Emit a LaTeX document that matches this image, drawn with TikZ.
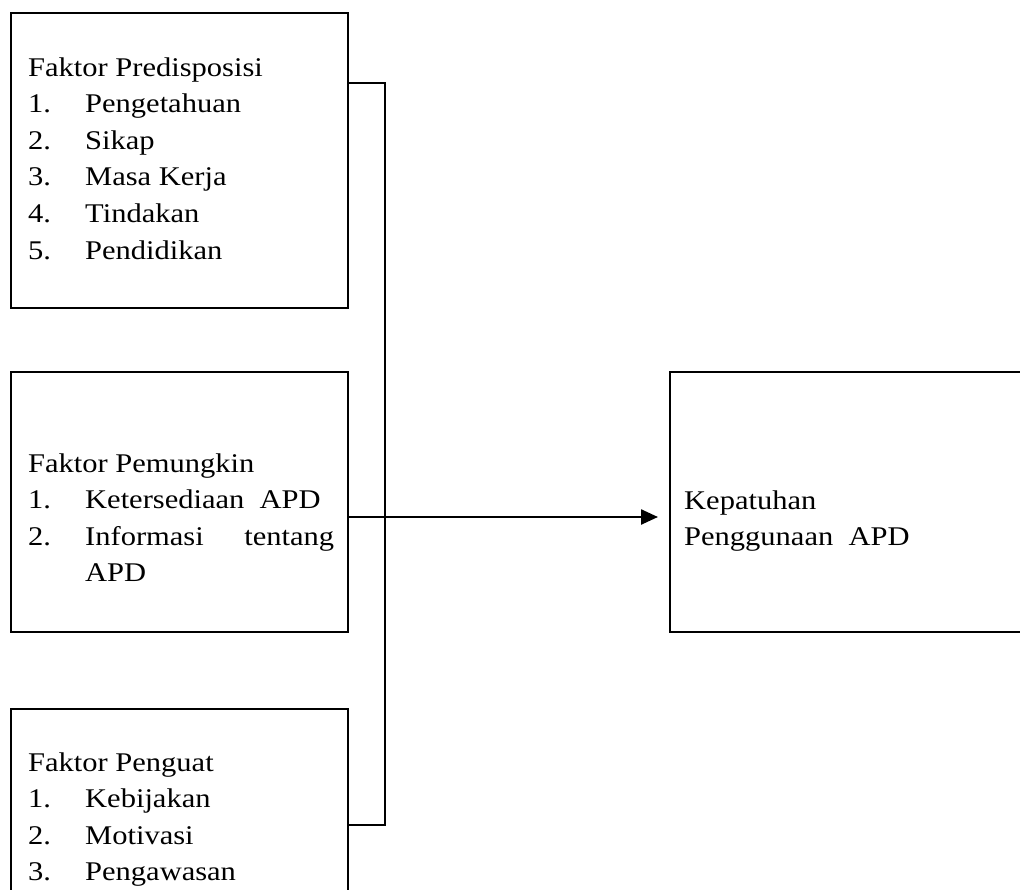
\documentclass[tikz,border=0pt]{standalone}
\usepackage{fontspec}
\setmainfont{Liberation Serif}[FakeStretch=1.13]
\usetikzlibrary{arrows.meta}
\begin{document}
\begin{tikzpicture}[x=1pt,y=-1pt,
  box/.style={draw,line width=2.4pt,rectangle,inner sep=0pt,anchor=north west},
  txt/.style={anchor=base west,inner sep=0pt,font=\fontsize{27}{36.6}\selectfont},
  conn/.style={line width=2.4pt}]
\useasboundingbox (0,0) rectangle (1020,889);
\clip (0,0) rectangle (1020,889);
% boxes
\node[box,minimum width=337pt,minimum height=295pt] (b1) at (10,12) {};
\node[box,minimum width=337pt,minimum height=260pt] (b2) at (10,371) {};
\node[box,minimum width=337pt,minimum height=250pt] (b3) at (10,708) {};
\node[box,minimum width=400pt,minimum height=260pt] (b4) at (669,371) {};
% texts
\node[txt] (t1) at (28,76) {\begin{tabular}[t]{@{}p{57pt}@{}p{249pt}@{}}
\multicolumn{2}{@{}l@{}}{Faktor Predisposisi}\\
1. & Pengetahuan\\
2. & Sikap\\
3. & Masa Kerja\\
4. & Tindakan\\
5. & Pendidikan
\end{tabular}};
\node[txt] (t2) at (28,472) {\begin{tabular}[t]{@{}p{57pt}@{}p{249pt}@{}}
\multicolumn{2}{@{}l@{}}{Faktor Pemungkin}\\
1. & Ketersediaan\ \ APD\\
2. & Informasi \hfill tentang\\
 & APD
\end{tabular}};
\node[txt] (t3) at (28,771) {\begin{tabular}[t]{@{}p{57pt}@{}p{249pt}@{}}
\multicolumn{2}{@{}l@{}}{Faktor Penguat}\\
1. & Kebijakan\\
2. & Motivasi\\
3. & Pengawasan
\end{tabular}};
\node[txt] (t4) at (684,509) {\begin{tabular}[t]{@{}l@{}}
Kepatuhan\\
Penggunaan\ \ APD
\end{tabular}};
% connectors
\coordinate (top) at (385,83);
\coordinate (bot) at (385,825);
\coordinate (mid) at (385,517);
\draw[conn] (b1.east |- top) -- (top) -- (bot) -- (b3.east |- bot);
\draw[conn,-{Triangle[length=17pt,width=15pt]},shorten >=11pt] (b2.east |- mid) -- (b4.west |- mid);
\end{tikzpicture}
\end{document}
